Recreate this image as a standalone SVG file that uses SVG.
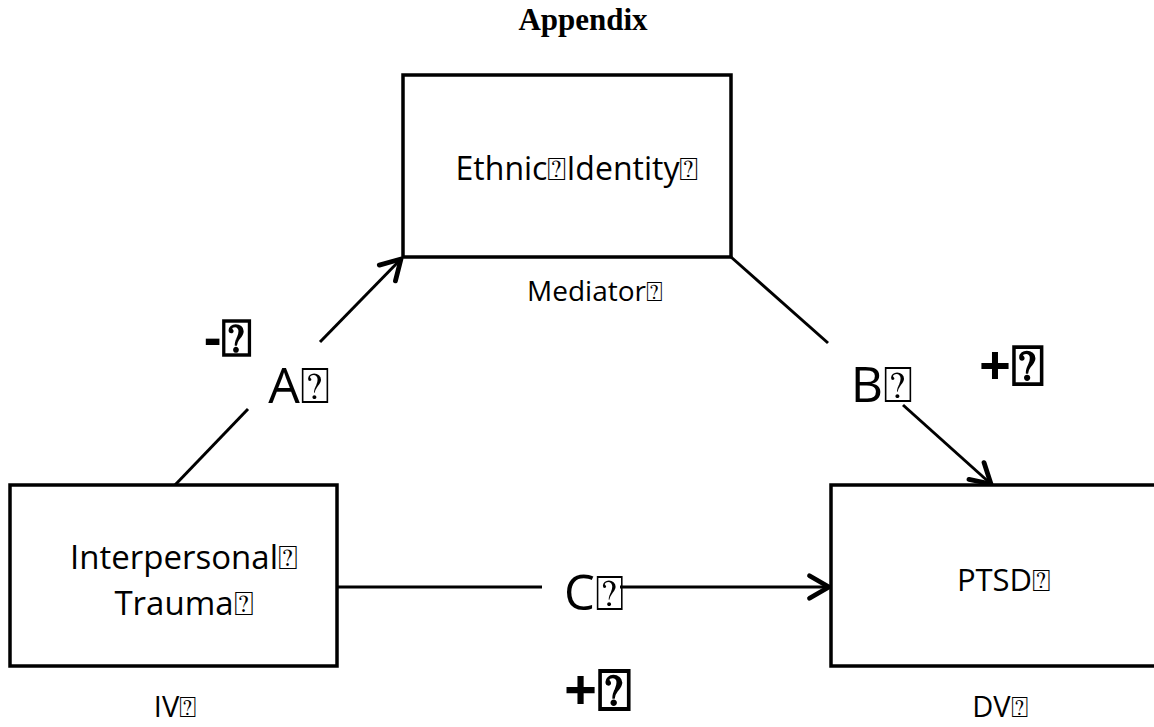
<svg xmlns="http://www.w3.org/2000/svg" width="1154" height="727" viewBox="0 0 1154 727">
  <style>
    .box { fill: #fff; stroke: #000; stroke-width: 3.5; }
    .lbl { font-family: "Open Sans", "DejaVu Sans", sans-serif; fill: #000; text-anchor: middle; }
    .sign { font-family: "Open Sans", "DejaVu Sans", sans-serif; font-weight: bold; fill: #000; text-anchor: middle; }
    .path { fill: none; stroke: #000; stroke-width: 3; }
  </style>
  <defs>
    <marker id="arrow" markerUnits="userSpaceOnUse" markerWidth="30" markerHeight="30" viewBox="-16 -10 20 20" refX="0" refY="0" orient="auto">
      <path d="M-13,-7.5 L0,0 L-13,7.5" fill="none" stroke="#000" stroke-width="3.2" stroke-linecap="round" stroke-linejoin="round"/>
    </marker>
  </defs>
  <rect width="1154" height="727" fill="#fff"/>

  <text x="583" y="30" font-family="'Liberation Serif', serif" font-weight="bold" font-size="31" text-anchor="middle">Appendix</text>

  <!-- connectors: A (IV to mediator), B (mediator to DV), C (IV to DV) -->
  <g id="connectors">
    <line class="path" x1="175" y1="485" x2="248" y2="409"/>
    <line class="path" x1="320" y1="342" x2="401" y2="259" marker-end="url(#arrow)"/>
    <line class="path" x1="731" y1="257" x2="828" y2="343"/>
    <line class="path" x1="903" y1="405" x2="991" y2="484" marker-end="url(#arrow)"/>
    <line class="path" x1="337" y1="587" x2="542" y2="587"/>
    <line class="path" x1="620" y1="587" x2="829" y2="587" marker-end="url(#arrow)"/>
  </g>

  <g id="path-labels">
    <text class="lbl" x="299" y="403" font-size="50">A⍰</text>
    <text class="lbl" x="882" y="402" font-size="50">B⍰</text>
    <text class="lbl" x="594" y="610" font-size="49">C⍰</text>
    <text class="sign" x="228" y="356" font-size="52">-⍰</text>
    <text class="sign" x="1012" y="385" font-size="56">+⍰</text>
    <text class="sign" x="598" y="710" font-size="58">+⍰</text>
  </g>

  <g id="mediator">
    <rect class="box" x="403" y="75" width="328" height="182"/>
    <text class="lbl" x="577" y="180" font-size="32">Ethnic⍰Identity⍰</text>
    <text class="lbl" x="595" y="301" font-size="28">Mediator⍰</text>
  </g>

  <g id="iv">
    <rect class="box" x="10" y="485" width="327" height="181"/>
    <text class="lbl" x="184" y="569" font-size="33">Interpersonal⍰</text>
    <text class="lbl" x="184" y="615" font-size="33">Trauma⍰</text>
    <text class="lbl" x="175" y="717" font-size="29">IV⍰</text>
  </g>

  <g id="dv">
    <rect class="box" x="831" y="485" width="330" height="181"/>
    <text class="lbl" x="1004" y="591" font-size="31">PTSD⍰</text>
    <text class="lbl" x="1000" y="717" font-size="29">DV⍰</text>
  </g>
</svg>
